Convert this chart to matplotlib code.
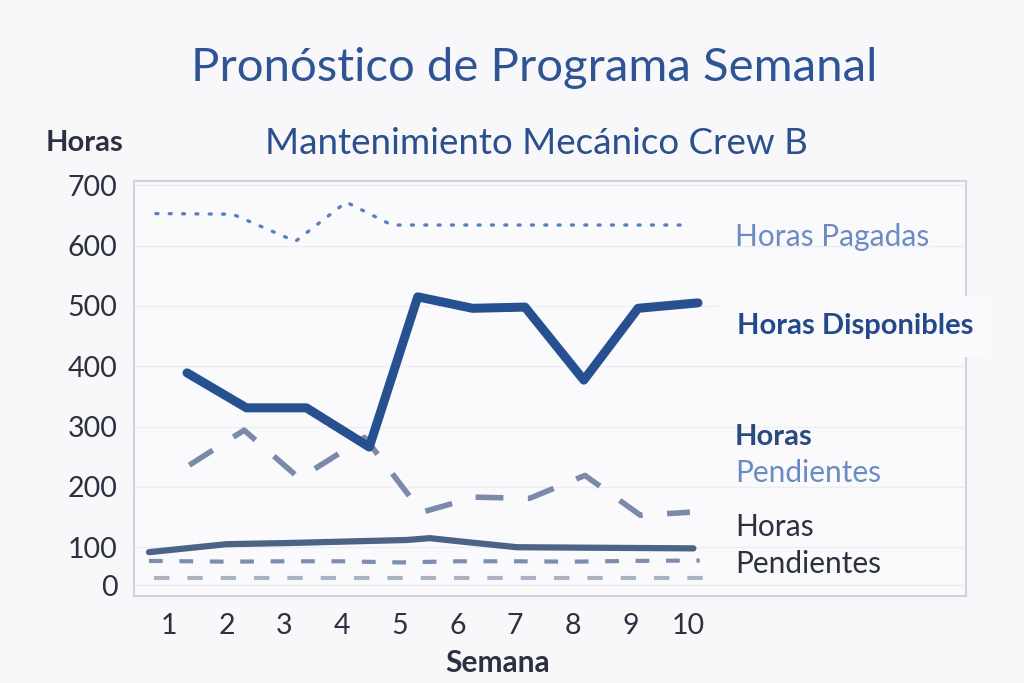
import numpy as np
import matplotlib
matplotlib.use("Agg")

import matplotlib.pyplot as plt

plt.rcParams['font.family'] = ['Lato', 'DejaVu Sans']

# data (weeks, hours)
weeks = [1, 2, 3, 4, 5, 6, 7, 8, 9, 10]
y_ticks = [0, 100, 200, 300, 400, 500, 600, 700]

pagadas_x = [0.77, 2.1, 3.19, 4.07, 4.86, 9.9]
pagadas_y = [653, 652, 607, 672, 634, 634]

disponibles_x = [1.31, 2.34, 3.38, 4.47, 5.31, 6.26, 7.17, 8.19, 9.13, 10.17]
disponibles_y = [389, 331, 331, 266, 515, 496, 498, 377, 496, 505]

pendientes_x = [1.35, 2.30, 3.26, 4.39, 5.38, 6.30, 7.25, 8.21, 9.17, 10.03]
pendientes_y = [236, 294, 214, 282, 158, 183, 181, 219, 153, 158]

pend2_x = [0.65, 1.99, 3.08, 5.12, 5.52, 6.21, 7.03, 10.09]
pend2_y = [87, 105, 107, 112, 115, 108, 100, 97]

low1_x = [0.65, 2, 3, 4, 5, 6, 7, 8, 9, 10.2]
low1_y = [64, 62, 63, 63, 60, 63, 63, 62, 64, 65]

low2_x = [0.74, 10.3]
low2_y = [18, 18]

BG = '#f8f8fa'
AX_BG = '#fafafc'
TXT = '#2b3140'


# the reference squeezes the 0-100 band, mimic it with a piecewise scale
def fwd(v):
    v = np.asarray(v, float)
    return np.where(v >= 100, v, 100 - (100 - v) * 0.63)


def inv(u):
    u = np.asarray(u, float)
    return np.where(u >= 100, u, 100 - (100 - u) / 0.63)


fig = plt.figure(figsize=(10.24, 6.83), dpi=100, facecolor=BG)
ax = fig.add_axes([0.131, 0.127, 0.812, 0.608], facecolor=AX_BG)
ax.set_yscale('function', functions=(fwd, inv))
ax.set_xlim(0.393, 14.81)
ax.set_ylim(-29, 707)

# lines
ax.plot(pagadas_x, pagadas_y, color='#5a7fc0', lw=2.4,
        linestyle=(0, (0.6, 3.4)), dash_capstyle='round', zorder=3)
ax.plot(disponibles_x, disponibles_y, color='#26508f', lw=6.5,
        solid_capstyle='round', solid_joinstyle='round', zorder=4)
ax.plot(pendientes_x, pendientes_y, color='#7a8aa8', lw=4.0,
        linestyle=(0, (5, 4.4)), zorder=3)
ax.plot(pend2_x, pend2_y, color='#4b6387', lw=4.5,
        solid_capstyle='round', zorder=3)
ax.plot(low1_x, low1_y, color='#7d8dad', lw=3.0,
        linestyle=(0, (3.3, 4)), zorder=3)
ax.plot(low2_x, low2_y, color='#aab3c6', lw=3.0,
        linestyle=(0, (3.7, 4.3)), zorder=3)

# axes styling
ax.set_xticks(weeks)
ax.set_yticks(y_ticks)
ax.tick_params(length=0, labelsize=20.5, labelcolor=TXT)
ax.tick_params(axis='y', pad=12)
ax.tick_params(axis='x', pad=12)
ax.grid(axis='y', color='#eceef3', lw=1)
ax.set_axisbelow(True)
for s in ax.spines.values():
    s.set_color('#cfd3de')
    s.set_linewidth(1.5)

# titles
fig.text(0.522, 0.90, 'Pronóstico de Programa Semanal', ha='center',
         va='center', fontsize=34, color='#2f5496')
fig.text(0.524, 0.79, 'Mantenimiento Mecánico Crew B', ha='center',
         va='center', fontsize=26.5, color='#2c4f8e')
fig.text(0.083, 0.79, 'Horas', ha='center', va='center', fontsize=21,
         fontweight='bold', color=TXT)
fig.text(0.486, 0.03, 'Semana', ha='center', va='center', fontsize=21.5,
         fontweight='bold', color=TXT)

# series labels
ax.text(10.81, 614, 'Horas Pagadas', fontsize=21.5, color='#6b8cc2',
        va='center')
ax.text(10.84, 466, 'Horas Disponibles', fontsize=21, color='#24498a',
        fontweight='bold', va='center', zorder=5,
        bbox=dict(boxstyle='square,pad=0.6', fc=AX_BG, ec='none'))
ax.text(10.81, 282, 'Horas', fontsize=21, color='#2b4a7e',
        fontweight='bold', va='center')
ax.text(10.81, 223, 'Pendientes', fontsize=21.5, color='#6b8cc2',
        va='center')
ax.text(10.81, 133, 'Horas', fontsize=21.5, color=TXT, va='center')
ax.text(10.81, 55, 'Pendientes', fontsize=21.5, color=TXT, va='center')

fig.savefig('out.png', dpi=100, facecolor=BG)
